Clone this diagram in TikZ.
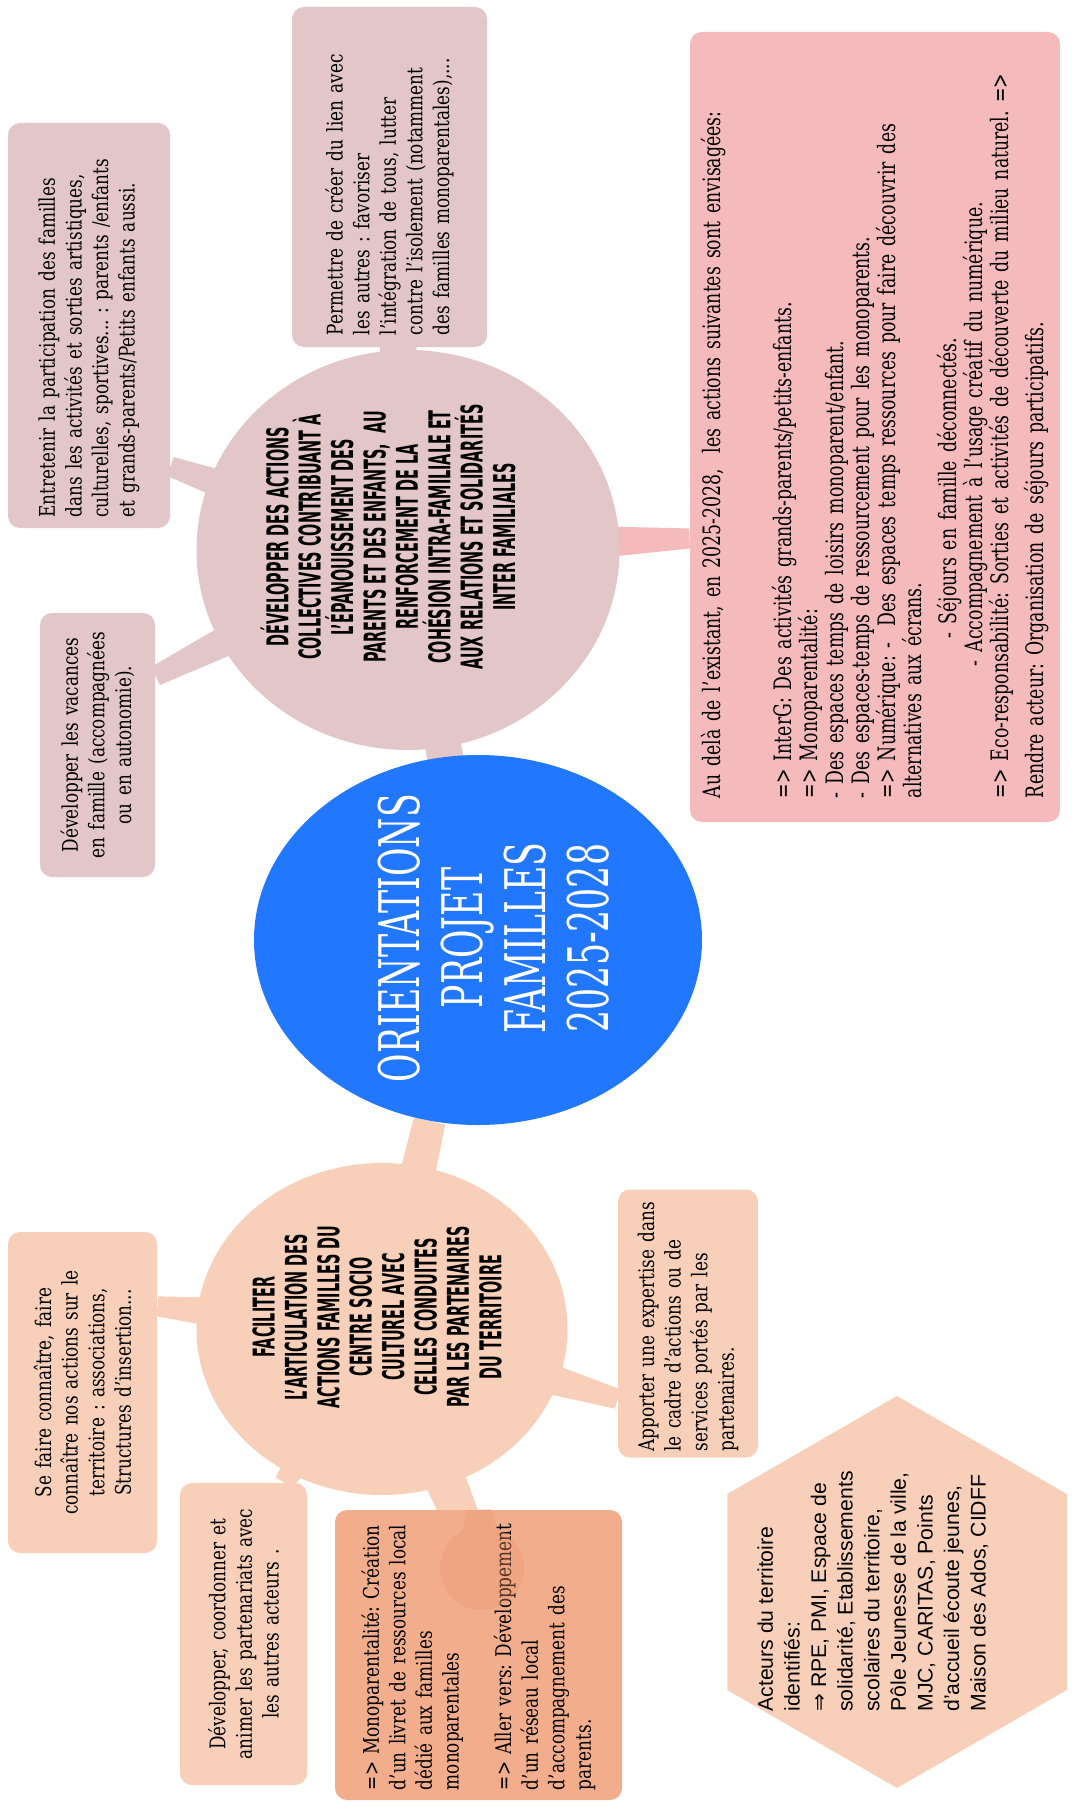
\documentclass[tikz,border=0pt]{standalone}
\usepackage{fontspec}
\setmainfont{DejaVu Serif}
\newfontfamily\boxserif[FakeStretch=0.78]{DejaVu Serif}
\newfontfamily\condserif[FakeStretch=0.72]{DejaVu Serif}
\newfontfamily\headsans[FakeStretch=0.48]{DejaVu Sans}
\newfontfamily\hubserif[FakeStretch=0.62]{DejaVu Serif}
\newfontfamily\hexsans{Liberation Sans}
\newfontfamily\symbsans{DejaVu Sans}
\usetikzlibrary{calc}
\usetikzlibrary{backgrounds}
\usetikzlibrary{shapes.geometric}
\frenchspacing

\definecolor{hubblue}{RGB}{34,119,255}
\definecolor{rosegrey}{RGB}{227,198,199}
\definecolor{rosebox}{RGB}{244,186,188}
\definecolor{peach}{RGB}{248,208,186}
\definecolor{salmon}{RGB}{242,174,140}
\definecolor{blobtone}{RGB}{236,150,112}

% tapered branch between two named points
\newcommand{\branchstem}[5]{%
  \fill[#1] ($(#2)!#4!90:(#3)$) -- ($(#3)!#5!-90:(#2)$)
    -- ($(#3)!#5!90:(#2)$) -- ($(#2)!#4!-90:(#3)$) -- cycle;}

\tikzset{
  idea/.style={rectangle, rounded corners=6pt, rotate=90, inner xsep=6pt,
    inner ysep=4pt, font=\boxserif\fontsize{10.8}{13.3}\selectfont},
  headline/.style={rotate=90, align=center, inner sep=0pt,
    font=\headsans\bfseries\fontsize{15}{16.2}\selectfont},
  bubble/.style={ellipse, inner sep=0pt}
}

\begin{document}
\begin{tikzpicture}[x=0.5pt, y=-0.5pt]
  \useasboundingbox (0,0) rectangle (1078,1809);

  % centre
  \node[bubble, fill=hubblue, minimum width=224pt, minimum height=185pt] (hub) at (478,940) {};
  \node[rotate=90, align=center, text=white, font=\hubserif\fontsize{28}{31.5}\selectfont] (hubtitle) at (494,938) {ORIENTATIONS\\PROJET\\FAMILLES\\2025-2028};

  % branche du haut
  \node[bubble, fill=rosegrey, minimum width=211.5pt, minimum height=200pt] (devel) at (408,550) {};
  \node[headline] (develtitle) at (388,537) {DÉVELOPPER DES ACTIONS\\COLLECTIVES CONTRIBUANT À\\L’ÉPANOUISSEMENT DES\\PARENTS ET DES ENFANTS,\ \ AU\\RENFORCEMENT DE LA\\COHÉSION INTRA-FAMILIALE ET\\AUX RELATIONS ET SOLIDARITÉS\\INTER FAMILIALES};

  \node[idea, fill=rosegrey, minimum width=170pt, minimum height=97.5pt, text width=158pt, align=left] (lien) at (389.5,177) {Permettre de créer du lien avec\\les autres : favoriser\\l’intégration de tous, lutter\\contre l’isolement (notamment\\des familles monoparentales),...};
  \node[idea, fill=rosegrey, minimum width=202.5pt, minimum height=81pt, text width=192pt, inner xsep=5pt, align=left] (entretenir) at (89,325.5) {Entretenir la participation des familles\\dans les activités et sorties artistiques,\\culturelles, sportives... : parents /enfants\\et grands-parents/Petits enfants aussi.};
  \node[idea, fill=rosegrey, minimum width=132pt, minimum height=57.5pt, text width=124pt, inner xsep=4pt, align=center] (vacances) at (97.5,745) {Développer les vacances\\en famille (accompagnées\\ou en autonomie).};
  \node[idea, fill=rosebox, minimum width=395pt, minimum height=185pt, inner xsep=12pt, text width=371pt, align=left, font=\condserif\fontsize{12}{13}\selectfont] (actions) at (875,427) {Au delà de l’existant, en 2025-2028,\ \ les actions suivantes sont envisagées:\\[22.5pt]
    => InterG: Des activités grands-parents/petits-enfants.\\
    => Monoparentalité:\\
    - Des espaces temps de loisirs monoparent/enfant.\\
    - Des espaces-temps de ressourcement pour les monoparents.\\
    => Numérique: -\ \ Des espaces temps ressources pour faire découvrir des\\
    alternatives aux écrans.\\[4.5pt]
    \hspace*{80pt}- Séjours en famille déconnectés.\\
    \hspace*{66pt}- Accompagnement à l’usage créatif du numérique.\\
    => Eco-responsabilité: Sorties et activités de découverte du milieu naturel. =>\\[4.5pt]
    Rendre acteur: Organisation de séjours participatifs.};

  % branche du bas
  \node[bubble, fill=peach, minimum width=185.5pt, minimum height=166pt] (facil) at (382,1329) {};
  \node[headline] (faciltitle) at (377,1317) {FACILITER\\L’ARTICULATION DES\\ACTIONS FAMILLES DU\\CENTRE SOCIO\\CULTUREL AVEC\\CELLES CONDUITES\\PAR LES PARTENAIRES\\DU TERRITOIRE};

  \node[idea, fill=peach, minimum width=160.5pt, minimum height=74.5pt, text width=150pt, inner xsep=5pt, align=center] (sefaire) at (82.5,1392.5) {Se faire connaître, faire\\connaître nos actions sur le\\territoire : associations,\\Structures d’insertion...};
  \node[idea, fill=peach, minimum width=151pt, minimum height=63.5pt, text width=143pt, inner xsep=4pt, align=center] (partners) at (243.5,1634) {Développer, coordonner et\\animer les partenariats avec\\les autres acteurs .};
  \node[idea, fill=salmon, minimum width=145pt, minimum height=143.5pt, inner xsep=5pt, text width=135pt, align=left] (mono) at (478.5,1655) {=> Monoparentalité: Création\\d’un livret de ressources local\\dédié aux familles\\monoparentales\\[13pt]=> Aller vers: Développement\\d’un réseau local\\d’accompagnement des\\parents.};
  \node[idea, fill=peach, minimum width=133.5pt, minimum height=70pt, text width=128pt, inner xsep=3pt, align=left] (expertise) at (688,1323.5) {Apporter une expertise dans\\le cadre d’actions ou de\\services portés par les\\partenaires.};

  \node[regular polygon, regular polygon sides=6, rotate=90, minimum size=196pt, inner sep=0pt, fill=peach] (actors) at (897,1592) {};
  \node[rotate=90, anchor=west, align=left, inner sep=0pt, font=\hexsans\fontsize{10.6}{13.3}\selectfont] (actorslist) at (873,1712) {Acteurs du territoire\\identifiés:\\{\symbsans ⇒} RPE, PMI, Espace de\\solidarité, Etablissements\\scolaires du territoire,\\Pôle Jeunesse de la ville,\\MJC, CARITAS, Points\\d’accueil écoute jeunes,\\Maison des Ados, CIDFF};

  \coordinate (monoblob) at (482,1568);
  \begin{scope}[transparency group, opacity=.35]
    \fill[blobtone] (monoblob) circle (21pt);
    \branchstem{blobtone}{mono.east}{monoblob}{6pt}{14pt}
  \end{scope}

  \begin{pgfonlayer}{background}
    \fill[white] (0,0) rectangle (1078,1809);
    \branchstem{rosegrey}{hub}{devel}{9pt}{9pt}
    \branchstem{peach}{hub.255}{facil}{8pt}{11pt}
    \branchstem{rosegrey}{devel}{lien}{14pt}{5pt}
    \branchstem{rosegrey}{devel}{entretenir.-150}{14pt}{5pt}
    \branchstem{rosegrey}{devel}{vacances.-40}{14pt}{5pt}
    \branchstem{rosebox}{devel}{actions.121}{14pt}{5pt}
    \branchstem{peach}{facil}{sefaire.-41}{14pt}{5pt}
    \branchstem{peach}{facil}{partners.-15}{14pt}{5pt}
    \branchstem{peach}{facil}{monoblob}{14pt}{8pt}
    \branchstem{peach}{facil}{expertise.137}{14pt}{5pt}
  \end{pgfonlayer}
\end{tikzpicture}
\end{document}
